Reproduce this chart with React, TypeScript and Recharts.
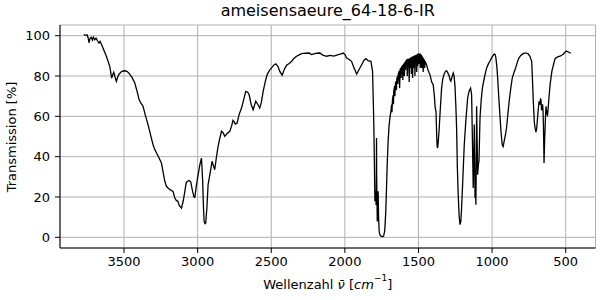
import React from 'react';
import { LineChart, Line, XAxis, YAxis, CartesianGrid } from 'recharts';

const title = 'ameisensaeure_64-18-6-IR';
const yLabel = 'Transmission [%]';

const wavenumbers = [
  // 3800-3000
  3774, 3762, 3751, 3744, 3738, 3730, 3722, 3715, 3708, 3699, 3690, 3680, 3670, 3662, 3643, 3620, 3597, 3584, 3577, 3570,
  3561, 3552, 3543, 3534, 3515, 3495, 3480, 3466, 3445, 3427, 3410, 3398, 3385, 3371, 3355, 3337, 3320, 3303, 3291, 3275,
  3262, 3246, 3235, 3223, 3212, 3201, 3185, 3167, 3155, 3144, 3135, 3125, 3110, 3098, 3087, 3078, 3069, 3058, 3047, 3035,
  // 3000-2000
  3025, 3019, 3010, 2997, 2985, 2974, 2966, 2960, 2956, 2950, 2945, 2937, 2929, 2915, 2902, 2893, 2884, 2872, 2861, 2850,
  2838, 2828, 2816, 2800, 2782, 2770, 2760, 2754, 2744, 2732, 2718, 2702, 2688, 2673, 2660, 2650, 2637, 2623, 2614, 2605,
  2592, 2578, 2567, 2555, 2540, 2528, 2512, 2498, 2482, 2469, 2455, 2442, 2426, 2410, 2396, 2378, 2362, 2345, 2328, 2310,
  2294, 2270, 2243, 2227, 2210, 2190, 2170, 2150, 2124, 2100, 2075, 2045, 2025, 2011, 1998, 1988, 1970, 1955, 1940, 1920,
  // 1900-1700
  1905, 1886, 1870, 1857, 1842, 1823, 1812, 1806, 1803, 1799, 1796, 1790, 1788, 1786, 1785, 1784, 1782, 1780, 1777, 1774,
  1771, 1767, 1762, 1755, 1745, 1737, 1730, 1728, 1722, 1717, 1712, 1706,
  // 1700-1420 (noisy)
  1700, 1694, 1686, 1683, 1680, 1677, 1672, 1670, 1668, 1662, 1660, 1657, 1652, 1650, 1647, 1642, 1640, 1637, 1631, 1628,
  1625, 1620, 1618, 1615, 1609, 1606, 1603, 1598, 1596, 1593, 1590, 1588, 1585, 1579, 1576, 1573, 1566, 1563, 1560, 1558,
  1556, 1553, 1550, 1548, 1545, 1542, 1540, 1537, 1534, 1532, 1529, 1526, 1524, 1521, 1515, 1512, 1509, 1507, 1505, 1503,
  1498, 1496, 1493, 1490, 1488, 1485, 1480, 1478, 1475, 1470, 1468, 1465, 1460, 1458, 1455, 1445, 1435, 1427, 1422,
  // 1420-1000
  1410, 1400, 1392, 1386, 1381, 1376, 1373, 1370, 1366, 1360, 1354, 1348, 1343, 1335, 1327, 1318, 1309, 1300, 1291,
  1285, 1280, 1272, 1264, 1258, 1252, 1246, 1241, 1236, 1230, 1224, 1218, 1212, 1207, 1198, 1189, 1178, 1166, 1156, 1146,
  1139, 1134, 1128, 1124, 1121, 1118, 1116, 1113, 1110, 1107, 1105, 1102, 1098, 1093, 1089, 1082, 1074, 1066, 1050, 1037,
  1025, 1015, 1000,
  // 1000-450
  985, 978, 974, 968, 962, 955, 947, 939, 931, 925, 918, 910, 902, 893, 884, 873, 863,
  850, 840, 828, 818, 805, 789, 778, 766, 755, 743, 737, 731, 727, 720, 713, 708, 702, 697, 693, 687,
  681, 675, 671, 668, 664, 661, 657, 654, 651, 647, 643, 640, 636, 633, 629, 626, 624, 620, 615, 606,
  594, 583, 572, 555, 538, 525, 515, 505, 497, 490, 482, 474, 466,
];

const transmission = [
  // 3800-3000
  100.6, 100.2, 100.4, 99, 96.5, 98.8, 99.2, 97.8, 99.3, 98, 98.8, 97.5, 96.3, 97.2, 93.9, 89.8, 84.8, 79, 80.5, 81.8,
  79.5, 77.4, 79.5, 80.9, 82.3, 82.6, 82.3, 81.3, 79.2, 76.5, 72, 68.3, 66.5, 65, 60.5, 55.9, 50.8, 45.9, 43.5, 41.2,
  39.3, 36.9, 32.5, 27.8, 25.3, 24.5, 23.5, 22.8, 19.5, 18.2, 18, 15.8, 14.5, 18, 22.8, 27, 27.8, 28.2, 27.5, 23,
  // 3000-2000
  20, 19.8, 25, 31, 36, 39.3, 28, 14, 7.9, 6.8, 7.1, 15, 26.1, 32, 37.7, 35.5, 33.5, 40, 45.1, 49,
  52.6, 52, 50.1, 51.5, 52.6, 55, 58, 57.5, 56.2, 56.7, 61, 64.1, 68, 72.4, 72, 70.7, 66, 63.3, 65.5, 67.5,
  66, 64.1, 67, 72.4, 77.5, 80.7, 82.8, 84, 85.5, 86, 84.8, 82.3, 80.4, 83.5, 85.3, 86.2, 87.3, 88.8, 89.8, 90.5,
  91.1, 91.3, 91.4, 90.6, 91, 91.3, 91.4, 90.4, 89.8, 90.2, 89.9, 90.6, 91, 91.4, 90.5, 88.9, 88.2, 87.3, 84.5, 81,
  // 1900-1700
  83, 85.6, 87.8, 88.6, 87.6, 87.3, 82.3, 65, 54.2, 35, 17.9, 23, 16, 30, 49.3, 30, 20, 7.9, 15, 22.8,
  10, 3, 1.3, 0.6, 0.4, 0.5, 3, 4.6, 13, 24.5, 37, 47.6,
  // 1700-1420 (noisy)
  55, 59.2, 63, 65.8, 62, 68, 70.5, 66, 72.5, 75, 70, 76, 77.5, 73, 78.5, 80, 76, 81, 82.5, 74,
  83, 84, 79, 84.5, 85, 78, 85.5, 86, 80, 86.5, 87, 83, 87.5, 88, 80, 88, 88.3, 77, 88.5, 88.6,
  84, 88.8, 89, 81, 89, 89.2, 79, 89.3, 89.5, 84, 89.6, 89.8, 80, 89.9, 90.2, 82, 90.5, 90.6, 85, 90.9,
  90.9, 86, 90.8, 90.7, 84, 90.5, 90, 84, 89.5, 88.8, 82, 88.3, 87.8, 84, 87.3, 85.5, 83, 81.5, 80.7,
  // 1420-1000
  77, 75.7, 70, 64, 62.5, 50, 45, 44.3, 47, 53, 60.8, 68, 74, 78.5, 80.7, 82.2, 82.6, 81.5, 79.9,
  78, 77.4, 79.5, 81.5, 80, 75, 65, 54.2, 35, 21.1, 11, 6.3, 8, 14.5, 30, 45.9, 58, 69.1, 72.5, 74,
  70.7, 50, 24.5, 40, 55.9, 40, 19.5, 25, 16.2, 40, 65, 50, 31, 36, 37.7, 59.2, 68, 74, 80, 84,
  86, 87.3, 89.5,
  // 1000-450
  90.9, 90.5, 88.9, 85, 79, 70, 60.8, 52, 45.9, 45, 47.6, 50.5, 54.2, 61, 67.5, 74, 79,
  82, 84, 87, 88.9, 90.2, 91.1, 91.4, 91.4, 91, 89.8, 88.5, 87.3, 80.7, 67.5, 57, 54.2, 52.2, 54, 57.5, 63,
  67.5, 65.8, 68.5, 68.3, 63, 64.1, 66, 63, 55, 36.9, 48, 54.2, 62, 65, 61, 63, 60, 63, 68, 75.7,
  82.3, 85.6, 88.6, 89.5, 89.8, 90.4, 90.9, 91.8, 92.3, 92.2, 91.9, 91.6, 91.4,
];

const majorTicksX = [3500, 3000, 2500, 2000, 1500, 1000, 500];
const minorTicksX = [3900, 3800, 3700, 3600, 3500, 3400, 3300, 3200, 3100, 3000, 2900, 2800, 2700, 2600, 2500, 2400, 2300, 2200, 2100, 2000, 1900, 1800, 1700, 1600, 1500, 1400, 1300, 1200, 1100, 1000, 900, 800, 700, 600, 500, 400, 300];
const ticksY = [0, 20, 40, 60, 80, 100];

const xDomain: [number, number] = [297.5, 3935];
const yDomain: [number, number] = [-5.3, 105.3];

const data = wavenumbers.map((w, i) => ({ w, t: transmission[i] }));

const FONT = 'DejaVu Sans';
const tickStyle = { fill: '#000', fontSize: 13, fontFamily: FONT };

export default function App() {
  return (
    <div style={{ position: 'absolute', left: 0, top: 0, width: 600, height: 300, fontFamily: FONT, color: '#000', background: '#fff' }}>
      <div style={{ position: 'absolute', left: 60, top: 1, width: 535.5, textAlign: 'center', fontSize: 16, lineHeight: '20px', whiteSpace: 'nowrap' }}>
        {title}
      </div>
      <div style={{ position: 'absolute', left: 12, top: 136.5, transform: 'translate(-50%, -50%) rotate(-90deg)', fontSize: 13, whiteSpace: 'nowrap', lineHeight: '16px' }}>
        {yLabel}
      </div>
      <div style={{ position: 'absolute', left: 60, top: 277, width: 535.5, textAlign: 'center', fontSize: 13, lineHeight: '16px', whiteSpace: 'nowrap' }}>
        Wellenzahl <i>ν̄</i> [<i>cm</i><sup style={{ fontSize: 9, verticalAlign: 'top', lineHeight: '9px', position: 'relative', top: -3 }}>−1</sup>]
      </div>
      <LineChart width={600} height={300} data={data} margin={{ top: 25, right: 4.5, bottom: 0, left: 0 }}>
        <CartesianGrid xAxisId="minor" yAxisId="main" horizontal={false} stroke="#e8e8e8" strokeWidth={1} />
        <CartesianGrid xAxisId="main" yAxisId="main" stroke="#b0b0b0" strokeWidth={1} />
        <XAxis
          xAxisId="minor"
          dataKey="w"
          type="number"
          reversed
          domain={xDomain}
          allowDataOverflow
          ticks={minorTicksX}
          interval={0}
          tick={false}
          tickSize={3}
          height={0}
          axisLine={false}
          tickLine={{ stroke: '#000' }}
        />
        <XAxis
          xAxisId="main"
          dataKey="w"
          type="number"
          reversed
          domain={xDomain}
          allowDataOverflow
          ticks={majorTicksX}
          interval={0}
          tick={tickStyle}
          tickSize={5}
          tickMargin={4}
          height={52}
          stroke="#000"
          tickLine={{ stroke: '#000' }}
        />
        <XAxis
          xAxisId="top"
          orientation="top"
          dataKey="w"
          type="number"
          reversed
          domain={xDomain}
          allowDataOverflow
          tick={false}
          tickLine={false}
          height={0}
          stroke="#000"
        />
        <YAxis
          yAxisId="main"
          type="number"
          domain={yDomain}
          allowDataOverflow
          ticks={ticksY}
          interval={0}
          tick={tickStyle}
          tickSize={5}
          tickMargin={5}
          width={60}
          stroke="#000"
          tickLine={{ stroke: '#000' }}
        />
        <YAxis
          yAxisId="right"
          orientation="right"
          type="number"
          domain={yDomain}
          allowDataOverflow
          tick={false}
          tickLine={false}
          width={0}
          stroke="#000"
        />
        <Line
          xAxisId="main"
          yAxisId="main"
          dataKey="t"
          type="linear"
          stroke="#000"
          strokeWidth={1.3}
          dot={false}
          isAnimationActive={false}
        />
      </LineChart>
    </div>
  );
}
